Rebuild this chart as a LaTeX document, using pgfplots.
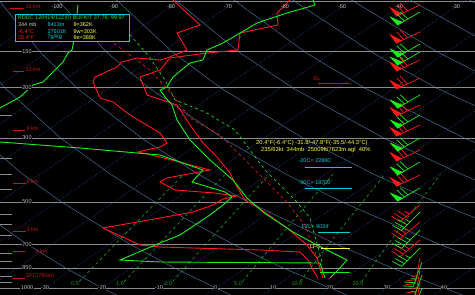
\documentclass[border=0pt]{standalone}
\usepackage{pgfplots}
\pgfplotsset{compat=1.18}
\usepackage{fontspec}
\setmainfont{Liberation Sans}
\definecolor{isoT}{HTML}{1F3F80}
\definecolor{adiab}{HTML}{405F84}
\definecolor{mixr}{HTML}{1FA01F}
\definecolor{snR}{HTML}{FF1A1A}
\definecolor{snG}{HTML}{1AF01A}
\definecolor{hgt}{HTML}{C81414}
\definecolor{plab}{HTML}{C8C8C8}
\definecolor{cyn}{HTML}{00D0D8}
\definecolor{yel}{HTML}{FFFF40}
\definecolor{pline}{HTML}{8C8C8C}
\pgfdeclareplotmark{barbA}{%
  \pgfpathmoveto{\pgfpointorigin}\pgfpathlineto{\pgfpoint{-26pt}{0pt}}%
  \pgfpathmoveto{\pgfpoint{-18pt}{0pt}}\pgfpathlineto{\pgfpoint{-21pt}{10pt}}%
  \pgfpathmoveto{\pgfpoint{-14pt}{0pt}}\pgfpathlineto{\pgfpoint{-17pt}{10pt}}%
  \pgfusepathqstroke
  \pgfpathmoveto{\pgfpoint{-26pt}{0pt}}\pgfpathlineto{\pgfpoint{-28pt}{10pt}}%
  \pgfpathlineto{\pgfpoint{-20.5pt}{0pt}}\pgfpathclose\pgfusepathqfillstroke}
\pgfdeclareplotmark{barbB}{%
  \pgfpathmoveto{\pgfpointorigin}\pgfpathlineto{\pgfpoint{-26pt}{0pt}}%
  \pgfpathmoveto{\pgfpoint{-26pt}{0pt}}\pgfpathlineto{\pgfpoint{-29pt}{10pt}}%
  \pgfpathmoveto{\pgfpoint{-22pt}{0pt}}\pgfpathlineto{\pgfpoint{-25pt}{10pt}}%
  \pgfpathmoveto{\pgfpoint{-18pt}{0pt}}\pgfpathlineto{\pgfpoint{-21pt}{10pt}}%
  \pgfpathmoveto{\pgfpoint{-14pt}{0pt}}\pgfpathlineto{\pgfpoint{-15.5pt}{5pt}}%
  \pgfusepathqstroke}
\pgfdeclareplotmark{barbC}{%
  \pgfpathmoveto{\pgfpointorigin}\pgfpathlineto{\pgfpoint{-26pt}{0pt}}%
  \pgfpathmoveto{\pgfpoint{-26pt}{0pt}}\pgfpathlineto{\pgfpoint{-29pt}{10pt}}%
  \pgfpathmoveto{\pgfpoint{-22pt}{0pt}}\pgfpathlineto{\pgfpoint{-25pt}{10pt}}%
  \pgfpathmoveto{\pgfpoint{-18pt}{0pt}}\pgfpathlineto{\pgfpoint{-19.5pt}{5pt}}%
  \pgfusepathqstroke}
\tikzset{lab/.style={font=\fontsize{5.5}{6}\selectfont, inner sep=0.4pt}}
\begin{document}
\begin{tikzpicture}
\begin{axis}[width=475pt,height=295pt,scale only axis,
  xmin=0,xmax=475,ymin=0,ymax=295,y dir=reverse,
  axis lines=none,ticks=none,unbounded coords=jump]
% background
\addplot[draw=none,fill=black] coordinates {(-5,-5) (480,-5) (480,300) (-5,300)} -- cycle;
% isotherms
\addplot[isoT,densely dotted,line width=0.6pt] coordinates {
(433.8,295) (864.8,0) (nan,nan) (376.8,295) (807.8,0) (nan,nan)
(319.8,295) (750.8,0) (nan,nan) (262.8,295) (693.8,0) (nan,nan)
(205.8,295) (636.8,0) (nan,nan) (148.8,295) (579.8,0) (nan,nan)
(91.8,295) (522.8,0) (nan,nan) (34.8,295) (465.8,0) (nan,nan)
(-22.2,295) (408.8,0) (nan,nan) (-79.2,295) (351.8,0) (nan,nan)
(-136.2,295) (294.8,0) (nan,nan) (-193.2,295) (237.8,0) (nan,nan)
(-250.2,295) (180.8,0) (nan,nan) (-307.2,295) (123.8,0) (nan,nan)
(-364.2,295) (66.8,0) (nan,nan) (-421.2,295) (9.8,0)};
% dry adiabats
\addplot[adiab,line width=0.6pt] coordinates {
(116.6,295) (102,288) (65.2,267.8) (26.1,243.7) (-32,202) (nan,nan)
(230.6,295) (216,288) (174,267.8) (129,243.7) (61.5,202) (22.9,174.3) (-19.3,138.6) (nan,nan)
(346.4,295) (330,288) (282.8,267.8) (232,243.7) (154.8,202) (110.6,174.3) (61.3,138.6) (5.3,88.3) (-25.6,52.6) (nan,nan)
(462.2,295) (444,288) (391.6,267.8) (335,243.7) (248.4,202) (198.3,174.3) (142.3,138.6) (77.3,88.3) (40.6,52.6) (0.6,2.2) (-5,-5) (nan,nan)
(558,288) (500.5,267.8) (437.9,243.7) (341.9,202) (286.1,174.3) (223.3,138.6) (149.5,88.3) (107,52.6) (59.7,2.2) (53,-5) (nan,nan)
(609.3,267.8) (540.7,243.7) (435.4,202) (373.8,174.3) (304,138.6) (221.3,88.3) (173.1,52.6) (118.9,2.2) (111,-5) (nan,nan)
(643.9,243.7) (529.2,202) (461.5,174.3) (384.8,138.6) (293.3,88.3) (239.7,52.6) (178,2.2) (169,-5) (nan,nan)
(622.6,202) (549.3,174.3) (465.5,138.6) (365.2,88.3) (305.8,52.6) (236.8,2.2) (227,-5) (nan,nan)
(546.4,138.6) (437.2,88.3) (372.4,52.6) (296,2.2) (285,-5) (nan,nan)
(509.2,88.3) (438.6,52.6) (355,2.2) (344,-5) (nan,nan)
(504.8,52.6) (414.1,2.2) (402,-5) (nan,nan)
(571.1,52.6) (473.2,2.2) (461,-5)};
% mixing ratio lines
\addplot[mixr,dashed,line width=0.6pt] coordinates {
(79.1,281.6) (115.6,243.7) (156.4,202) (183.8,174.3) (nan,nan)
(124.3,281.6) (159.3,243.7) (198.6,202) (225.1,174.3) (nan,nan)
(172.7,281.6) (206.2,243.7) (244,202) (269.4,174.3) (nan,nan)
(242.4,281.6) (273.6,243.7) (308.9,202) (332.8,174.3) (nan,nan)
(299.9,281.6) (329,243.7) (362.5,202) (384.8,174.3) (nan,nan)
(361.5,281.6) (388.4,243.7) (419.4,202) (440.5,174.3)};
% pressure lines
\addplot[pline,line width=0.9pt] coordinates {
(0,1) (475,1) (nan,nan) (0,51.5) (475,51.5) (nan,nan) (0,87.5) (475,87.5) (nan,nan)
(0,138) (475,138) (nan,nan) (0,202) (475,202) (nan,nan) (0,244.5) (475,244.5) (nan,nan)
(0,268) (475,268) (nan,nan) (0,288) (475,288)};
% left pressure ticks
\addplot[pline,line width=0.8pt] coordinates {
(0,115) (12,115) (nan,nan) (0,158) (12,158) (nan,nan) (0,174) (12,174) (nan,nan)
(0,189) (12,189) (nan,nan) (0,214) (12,214) (nan,nan) (0,224) (12,224) (nan,nan)
(0,235) (12,235) (nan,nan) (0,253) (12,253) (nan,nan) (0,261) (12,261) (nan,nan)
(0,276) (12,276) (nan,nan) (0,282) (12,282)};
% parcel traces
\addplot[snR,dashed,line width=0.6pt] coordinates {
(318,260) (305,225) (285,200) (250,165) (220,135) (190,118) (170,92) (150,70) (115,44) (95,30)};
\addplot[snG,dashed,line width=0.6pt] coordinates {
(322,262) (310,218) (295,200) (265,170) (235,130) (205,112) (175,100) (165,80) (148,55) (130,35)};
% soundings
\addplot[snR,line width=0.9pt] coordinates {
(290,0) (277,13) (278,25) (240,33) (238,50) (207,53) (170,58) (160,70) (140,77) (147,95) (177,105) (190,125) (203,143) (217,157) (230,173) (237,187) (245,200) (260,209) (287,228) (307,245) (317,258) (320,268) (323,278)};
\addplot[snR,line width=0.9pt] coordinates {
(173,0) (200,25) (177,33) (187,50) (167,58) (160,60) (137,58) (122,62) (117,67) (95,77) (93,82) (100,98) (113,102) (130,115) (160,133) (167,143) (160,147) (138,152) (160,157) (210,170) (167,178) (160,182) (175,190) (215,193) (237,196) (223,199) (213,205) (193,212) (160,218) (103,228) (140,245) (160,247) (260,250) (300,252) (308,260) (313,270) (318,278)};
\addplot[snG,line width=0.9pt] coordinates {
(313,0) (315,5) (287,13) (257,23) (242,32) (223,43) (207,50) (203,60) (190,63) (173,77) (167,87) (160,90) (165,97) (172,105) (177,120) (190,140) (210,160) (233,180) (247,198) (263,212) (293,232) (317,245) (347,260) (338,270) (330,278)};
\addplot[snG,line width=0.9pt] coordinates {
(78,5) (74,40) (72,50) (68,53) (63,62) (43,82) (33,85) (20,97) (0,108) (-30,125) (0,142) (80,148) (160,155) (203,170) (192,182) (225,192) (232,197) (223,205) (210,215) (180,235) (160,243) (120,260) (160,262) (320,263) (325,278)};
% level markers
\addplot[hgt,line width=0.9pt] coordinates {(318,83) (350,83)};
\addplot[cyn,line width=0.9pt] coordinates {(305,167) (352,167) (nan,nan) (305,188) (352,188) (nan,nan) (318,232) (350,232)};
\addplot[yel,line width=0.9pt] coordinates {(321,248) (350,248)};
\addplot[snG,line width=0.9pt] coordinates {(320,272) (350,272)};
% height markers
\addplot[hgt,line width=0.9pt] coordinates {
(10,8) (24,8) (nan,nan) (13,71) (24,71) (nan,nan) (13,130) (25,130) (nan,nan)
(13,183) (26,183) (nan,nan) (13,231) (26,231) (nan,nan) (13,251) (25,251) (nan,nan) (13,278) (25,278)};
% wind barbs
\addplot[only marks,mark=barbA,line width=0.7pt,mark options={draw=snR,fill=snR,rotate=25}] coordinates {
(420,5) (420,32) (420,60) (420,78) (420,105) (420,125) (420,150) (420,175)};
\addplot[only marks,mark=barbA,line width=0.7pt,mark options={draw=snG,fill=snG,rotate=30}] coordinates {
(420,12) (420,44) (420,52) (420,95) (420,115) (420,138) (420,162) (420,188)};
\addplot[only marks,mark=barbB,line width=0.7pt,mark options={draw=snR,rotate=40}] coordinates {
(420,205) (420,222) (420,240)};
\addplot[only marks,mark=barbB,line width=0.7pt,mark options={draw=snG,rotate=45}] coordinates {
(420,212) (420,230) (420,248)};
\addplot[only marks,mark=barbC,line width=0.7pt,mark options={draw=snR,rotate=80}] coordinates {
(420,258) (420,270) (420,282)};
\addplot[only marks,mark=barbC,line width=0.7pt,mark options={draw=snG,rotate=70}] coordinates {
(422,262) (422,275) (422,288)};
% texts: pressure labels
\foreach \yy/\tt in {51.5/150,87.5/200,138/300,202/500,244.5/700,268/850,288/1000}{
  \edef\tmp{\noexpand\node[lab,text=plab,fill=black] at (axis cs:27,\yy) {\tt};}\tmp}
% top temperature labels
\foreach \xx/\tt in {57/-100,114/-90,171/-80,228/-70,285/-60,342/-50,399/-40,456/-30}{
  \edef\tmp{\noexpand\node[lab,text=plab] at (axis cs:\xx,6.5) {\tt};}\tmp}
% bottom temperature labels
\foreach \xx/\tt in {45/-30,102/-20,159/-10,216/0,273/10,330/20,387/30,444/40}{
  \edef\tmp{\noexpand\node[lab,text=plab,fill=black] at (axis cs:\xx,288) {\tt};}\tmp}
% mixing ratio labels
\foreach \xx/\tt in {75/0.5,120/1.0,168/2.0,238/5.0,297/10.0,358/20.0}{
  \edef\tmp{\noexpand\node[lab,text=mixr] at (axis cs:\xx,284) {\tt};}\tmp}
% height labels
\node[lab,text=hgt,anchor=west] at (axis cs:25,7) {15 km};
\node[lab,text=hgt,anchor=west] at (axis cs:25,70) {12 km};
\node[lab,text=hgt,anchor=west] at (axis cs:26,128.5) {9 km};
\node[lab,text=hgt,anchor=west] at (axis cs:26,182) {6 km};
\node[lab,text=hgt,anchor=west] at (axis cs:26,230) {3 km};
\node[lab,text=hgt,anchor=west] at (axis cs:35,251.5) {2 km};
\node[lab,text=hgt,anchor=west] at (axis cs:25,276.5) {SFC(790m)};
% level marker labels
\node[lab,text=hgt,anchor=east] at (axis cs:321,79) {EL};
\node[lab,text=cyn,anchor=west] at (axis cs:298,161) {-20C= 22860'};
\node[lab,text=cyn,anchor=west] at (axis cs:298,183) {-30C= 18700'};
\node[lab,text=cyn,anchor=west] at (axis cs:301,227) {FZL= 9034'};
\node[lab,text=yel,anchor=east] at (axis cs:321,247) {LFC};
% cursor readout
\node[font=\fontsize{5.8}{6.5}\selectfont,inner sep=0pt,text=yel,anchor=west] at (axis cs:256,143) {20.4°F(-6.4°C) -31.8/-47.8°F(-35.5/-44.3°C)};
\node[font=\fontsize{5.8}{6.5}\selectfont,inner sep=0pt,text=yel,anchor=west] at (axis cs:261,150) {235/63kt\ \ 344mb\ \ 25009ft/7623m agl\ \ 40\%};
% info box
\addplot[draw=cyn,fill=black,line width=0.9pt] coordinates {(15,14) (129,14) (129,41) (15,41)} -- cycle;
\node[lab,text=snG,anchor=west] at (axis cs:17.5,18.5) {KDDC 120414/12Z(0) BUFKIT 37.76,-99.97};
\node[lab,text=plab,anchor=west] at (axis cs:17.5,25) {344 mb};
\node[lab,text=cyn,anchor=west] at (axis cs:47,25) {8413m};
\node[lab,text=yel,anchor=west] at (axis cs:73,25) {θ=362K};
\node[lab,text=snR,anchor=west] at (axis cs:17.5,31.5) {-6.4°C};
\node[lab,text=cyn,anchor=west] at (axis cs:47,31.5) {27601ft};
\node[lab,text=yel,anchor=west] at (axis cs:73,31.5) {θw=303K};
\node[lab,text=snR,anchor=west] at (axis cs:17.5,37.5) {20.4°F};
\node[lab,text=cyn,anchor=west] at (axis cs:47,37.5) {7g/Kg};
\node[lab,text=yel,anchor=west] at (axis cs:73,37.5) {θe=388K};
\end{axis}
\pgfresetboundingbox
\useasboundingbox (current axis.south west) rectangle (current axis.north east);
\end{tikzpicture}
\end{document}
